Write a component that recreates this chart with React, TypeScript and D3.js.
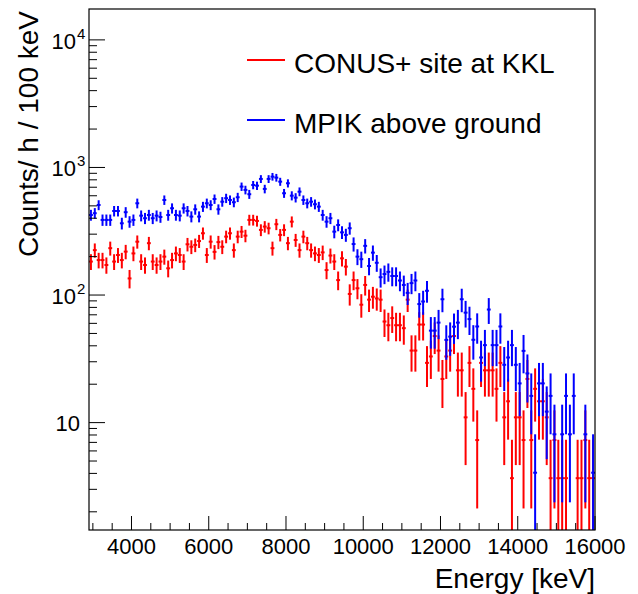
import React from "react";
import * as d3 from "d3";

// Histogram binning (keV)
const BIN_START = 2900;
const BIN_WIDTH = 100;

// Counts/h/100keV per single count (Poisson error scale) for each series
const RED_UNIT = 3.67;
const BLUE_UNIT = 4.05;

// CONUS+ site at KKL (red), one value per 100 keV bin starting at 2900 keV
const redRate = [
  183, 225, 188, 188, 172, 233, 183, 206, 188, 219,
  135, 212, 262, 183, 172, 255, 183, 172, 183, 200,
  162, 188, 212, 206, 183, 250, 239, 247, 265, 305,
  206, 262, 218, 260, 239, 287, 305, 225, 287, 314,
  292, 388, 388, 381, 324, 344, 334, 233, 359, 296,
  324, 255, 376, 270, 225, 287, 255, 225, 212, 206,
  216, 157, 204, 183, 131, 194, 167, 102, 131, 113,
  84, 120, 92, 97, 94, 92, 62, 58, 66, 58,
  58, 55, 92, 36.7, 36.7, 58.7, 58.7, 29.4, 33, 47.7,
  36.7, 22, 33, 36.7, 47.7, 25.7, 25.7, 11, 29.4, 18.4,
  7.3, 29.4, 25.7, 25.7, 25.7, 18.4, 29.4, 11, 14.7, 3.67,
  11, 11, 7.3, 22, 7.3, 18.4, 14.7, 14.7, 11, 3.67,
  7.3, 3.67, 3.67, 3.67, 0, 0, 3.67, 3.67, 7.3, 3.67,
  3.67,
];

// MPIK above ground (blue)
const blueRate = [
  424, 438, 508, 388, 388, 388, 456, 456, 365, 446,
  376, 388, 524, 419, 400, 424, 400, 419, 409, 556,
  424, 479, 424, 419, 479, 456, 412, 470, 412, 493,
  524, 508, 566, 470, 539, 574, 556, 534, 584, 708,
  667, 617, 729, 720, 813, 679, 813, 847, 832, 774,
  628, 752, 601, 580, 646, 556, 524, 539, 515, 493,
  424, 376, 400, 314, 354, 310, 296, 334, 251, 200,
  191, 243, 169, 215, 179, 138, 146, 152, 141, 141,
  130, 120, 104, 124, 130, 85, 89, 108, 52.6, 52.6,
  60.8, 92.7, 44.5, 47.2, 56.5, 60.8, 92.7, 72.8, 64.8, 44.6,
  56.7, 32.4, 40.5, 77, 40.5, 40.5, 56.7, 28.4, 32.4, 40.5,
  28.4, 20.3, 36.5, 24.3, 16.2, 4.05, 20.3, 20.3, 12.2, 16.2,
  8.1, 0, 8.1, 16.2, 8.1, 16.2, 0, 0, 8.1, 0,
  4.05,
];

const xTickLabels = [4000, 6000, 8000, 10000, 12000, 14000, 16000];
const yDecades = [1, 2, 3, 4];
const legendLabels = ["CONUS+ site at KKL", "MPIK above ground"];
const seriesColors = ["#ff0000", "#0000ff"];

const W = 638;
const H = 594;
const F = { left: 89, right: 595, top: 9, bottom: 530 };
const FONT = "'Liberation Sans', Arial, Helvetica, sans-serif";

export default function App() {
  const x = d3.scaleLinear().domain([2900, 16000]).range([F.left, F.right]);
  const y = d3.scaleLog().domain([1.44, 17460]).range([F.bottom, F.top]);

  const xMinor = d3.range(3000, 16001, 500);
  const yMinor: number[] = [];
  for (let d = 0; d <= 4; d++) {
    for (let k = 2; k <= 9; k++) {
      const v = k * Math.pow(10, d);
      if (v > 1.44 && v < 17460) yMinor.push(v);
    }
  }

  const renderSeries = (data: number[], unit: number, color: string, key: string) => (
    <g key={key} stroke={color} strokeWidth={2} fill="none">
      {data.map((v, i) => {
        if (v <= 0) return null;
        const lo = BIN_START + i * BIN_WIDTH;
        const c = lo + BIN_WIDTH / 2;
        const e = Math.sqrt(v * unit);
        const yTop = y(v + e);
        const yBot = v - e > 0 ? y(v - e) : F.bottom + 10;
        const yc = y(v);
        return (
          <g key={i}>
            <line x1={x(c)} x2={x(c)} y1={yTop} y2={yBot} />
            <line x1={x(lo)} x2={x(lo + BIN_WIDTH)} y1={yc} y2={yc} />
          </g>
        );
      })}
    </g>
  );

  return (
    <svg
      width={W}
      height={H}
      style={{ position: "absolute", left: 0, top: 0, background: "#fff" }}
      fontFamily={FONT}
    >
      <defs>
        <clipPath id="frameClip">
          <rect x={F.left} y={F.top} width={F.right - F.left} height={F.bottom - F.top} />
        </clipPath>
      </defs>
      <rect x={0} y={0} width={W} height={H} fill="#fff" />

      <g clipPath="url(#frameClip)">
        {renderSeries(redRate, RED_UNIT, seriesColors[0], "red")}
        {renderSeries(blueRate, BLUE_UNIT, seriesColors[1], "blue")}
      </g>

      {/* frame */}
      <rect
        x={F.left}
        y={F.top}
        width={F.right - F.left}
        height={F.bottom - F.top}
        fill="none"
        stroke="#000"
        strokeWidth={1.2}
      />

      {/* x ticks */}
      <g stroke="#000" strokeWidth={1}>
        {xMinor.map((v) => {
          const major = v % 2000 === 0;
          return (
            <line
              key={v}
              x1={x(v)}
              x2={x(v)}
              y1={F.bottom}
              y2={F.bottom - (major ? 14 : 7)}
            />
          );
        })}
      </g>
      <g fontSize={22} textAnchor="middle" fill="#000">
        {xTickLabels.map((v) => (
          <text key={v} x={x(v)} y={554}>
            {v}
          </text>
        ))}
      </g>

      {/* y ticks */}
      <g stroke="#000" strokeWidth={1}>
        {yDecades.map((d) => (
          <line key={"M" + d} x1={F.left} x2={F.left + 16} y1={y(Math.pow(10, d))} y2={y(Math.pow(10, d))} />
        ))}
        {yMinor.map((v) => (
          <line key={"m" + v} x1={F.left} x2={F.left + 8} y1={y(v)} y2={y(v)} />
        ))}
      </g>
      <g fontSize={22} fill="#000">
        {yDecades.map((d) => {
          const ty = y(Math.pow(10, d));
          if (d === 1) {
            return (
              <text key={d} x={80} y={ty + 8} textAnchor="end">
                10
              </text>
            );
          }
          return (
            <g key={d}>
              <text x={76} y={ty + 9} textAnchor="end">
                10
              </text>
              <text x={77} y={ty - 1} fontSize={15}>
                {d}
              </text>
            </g>
          );
        })}
      </g>

      {/* axis titles */}
      <text x={595} y={588} fontSize={28} textAnchor="end" fill="#000">
        Energy [keV]
      </text>
      <text
        transform="translate(38,11) rotate(-90)"
        fontSize={28}
        textAnchor="end"
        fill="#000"
      >
        Counts/ h / 100 keV
      </text>

      {/* legend */}
      {legendLabels.map((lab, i) => {
        const ly = 60 + i * 60;
        return (
          <g key={lab}>
            <line x1={247} x2={285} y1={ly} y2={ly} stroke={seriesColors[i]} strokeWidth={2} />
            <text x={294} y={ly + 13} fontSize={28} fill="#000">
              {lab}
            </text>
          </g>
        );
      })}
    </svg>
  );
}
